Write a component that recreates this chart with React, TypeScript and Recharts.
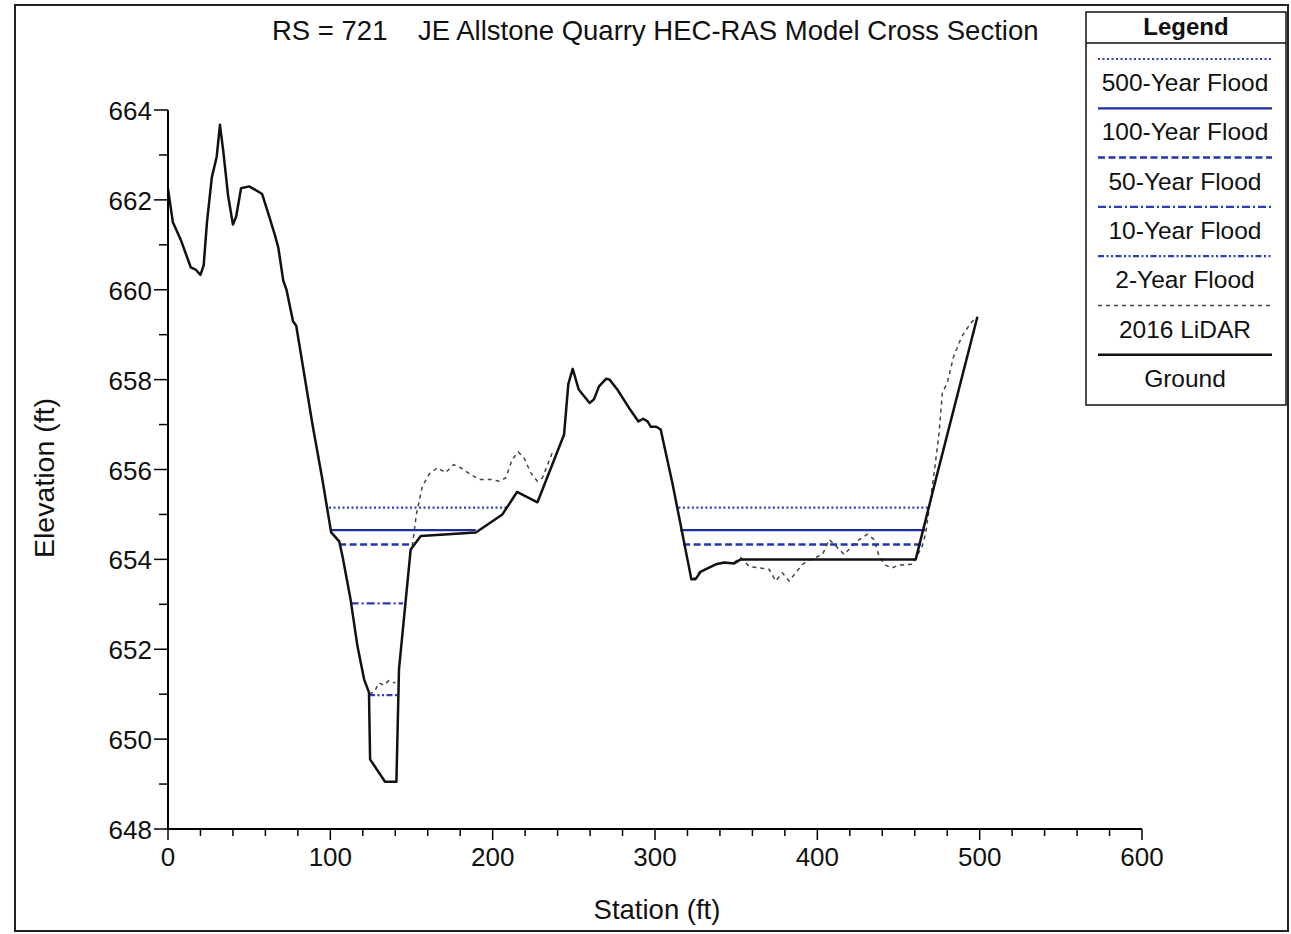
import { LineChart, Line, XAxis, YAxis } from "recharts";

// ground profile
const groundStation = [
  0, 3, 8, 14, 17, 20, 22, 24, 27, 30, 32, 34, 37, 40, 42, 45, 50, 53, 58, 62, 66, 68, 71, 73, 77, 79,
  89, 95, 100.5, 105.5, 107.5, 112.5, 116.7, 120.8, 123.8, 124.5, 133.7, 140.7, 142.3, 149.5, 155.7,
  189.6, 206, 215, 227.6, 238.8, 244, 246.6, 249.3, 253, 259.7, 262.4, 265.5, 270, 272, 276.8, 284,
  289.8, 292.7, 295.4, 297.4, 300.8, 303.5, 310.7, 320, 322.4, 325, 328, 333, 337.5, 342.6, 348.7,
  352.8, 460.6, 473, 498.6,
];
const groundElev = [
  662.25, 661.5, 661.1, 660.5, 660.45, 660.33, 660.55, 661.5, 662.5, 662.96, 663.67, 663.1, 662.1,
  661.45, 661.63, 662.26, 662.3, 662.24, 662.13, 661.67, 661.2, 660.93, 660.2, 660.0, 659.3, 659.2,
  657.0, 655.8, 654.6, 654.4, 654.07, 653.1, 652.07, 651.33, 651.04, 649.55, 649.05, 649.05, 651.56,
  654.22, 654.52, 654.6, 655.0, 655.5, 655.27, 656.3, 656.78, 657.9, 658.24, 657.78, 657.48, 657.56,
  657.85, 658.02, 658.0, 657.78, 657.37, 657.07, 657.13, 657.07, 656.95, 656.95, 656.89, 655.7, 654.0,
  653.56, 653.56, 653.72, 653.81, 653.89, 653.93, 653.91, 654.0, 654.0, 655.78, 659.4,
];

// 2016 LiDAR, only where it leaves the ground line (null = hidden gap)
const lidarStation = [
  124, 127, 130, 133, 136, 140, 145,
  150.5, 153, 156.7, 161, 166, 171, 176, 180.3, 186, 191.6, 198.8, 204, 208, 212, 215.8, 219.3, 223.4,
  227.5, 230.6, 234.3, 237, 280,
  322.4, 325, 328, 333, 337.5, 342.6, 348.7, 352.8, 358, 364, 370.3, 374.4, 378.5, 382.6, 386.7, 390.8,
  396, 403.2, 407.3, 411.4, 416.5, 421.6, 425.8, 430.9, 435, 438, 442, 446, 450, 458.5, 464.7, 466.8,
  472, 475, 477, 480, 484, 489, 494.5, 496.5,
];
const lidarElev = [
  651.0, 651.05, 651.25, 651.2, 651.3, 651.25, null,
  654.3, 655.0, 655.63, 655.9, 656.04, 655.93, 656.11, 656.04, 655.9, 655.78, 655.78, 655.74, 655.81,
  656.22, 656.39, 656.26, 655.93, 655.74, 655.81, 656.15, 656.4, null,
  653.56, 653.6, 653.75, 653.8, 653.9, 653.92, 653.93, 654.04, 653.84, 653.81, 653.78, 653.52, 653.7,
  653.52, 653.7, 653.89, 654.0, 654.11, 654.44, 654.3, 654.11, 654.3, 654.44, 654.56, 654.44, 654.07,
  653.87, 653.81, 653.87, 653.89, 654.3, 654.6, 655.93, 656.81, 657.7, 657.93, 658.52, 658.96, 659.26,
  659.33,
];

// water surfaces: left pool and right pool extents
const floodNames = ["500-Year Flood", "100-Year Flood", "50-Year Flood", "10-Year Flood", "2-Year Flood"];
const floodElev = [655.15, 654.65, 654.33, 653.02, 650.98];
const floodLeftStart = [99.2, 100.3, 105.4, 112.5, 123.8];
const floodLeftEnd = [208.5, 189.6, 150.5, 144.8, 141.9];
const floodRightStart = [314.4, 315.5, 317.3, null, null];
const floodRightEnd = [469, 466.4, 464.8, null, null];

const xTicks = [0, 20, 40, 60, 80, 100, 120, 140, 160, 180, 200, 220, 240, 260, 280, 300, 320, 340, 360, 380, 400, 420, 440, 460, 480, 500, 520, 540, 560, 580, 600];
const yTicks = [648, 649, 650, 651, 652, 653, 654, 655, 656, 657, 658, 659, 660, 661, 662, 663, 664];

const FONT = '"Liberation Sans", Arial, sans-serif';

const floodStyles = [
  { color: "#2b3fc4", width: 2.2, dash: "2 2.5" },
  { color: "#1f2d9c", width: 2.2, dash: undefined },
  { color: "#2236b0", width: 2.5, dash: "7 3.5" },
  { color: "#2a3cc0", width: 2.2, dash: "8 3 2 3" },
  { color: "#2a3cc0", width: 2.2, dash: "6 2.5 2 2.5 2 2.5" },
];
const lidarStyle = { color: "#444", width: 1.5, dash: "4 4" };
const groundStyle = { color: "#111", width: 2.5 };

const zip = (xs: number[], ys: (number | null)[]) => xs.map((x, i) => ({ x, y: ys[i] }));

const groundData = zip(groundStation, groundElev);
const lidarData = zip(lidarStation, lidarElev);
const floodData = floodNames.map((_, i) => {
  const e = floodElev[i];
  const pts: { x: number; y: number | null }[] = [
    { x: floodLeftStart[i], y: e },
    { x: floodLeftEnd[i], y: e },
  ];
  const rs = floodRightStart[i];
  const re = floodRightEnd[i];
  if (rs != null && re != null) {
    pts.push({ x: (floodLeftEnd[i] + rs) / 2, y: null });
    pts.push({ x: rs, y: e });
    pts.push({ x: re, y: e });
  }
  return pts;
});

const XTick = (props: any) => {
  const { x, y, payload } = props;
  const major = payload.value % 100 === 0;
  return (
    <g>
      <line x1={x} y1={y} x2={x} y2={y + (major ? 11 : 7)} stroke="#000" strokeWidth={1.5} />
      {major && (
        <text x={x} y={y + 37} textAnchor="middle" fontSize={26} fontFamily={FONT} fill="#111">
          {payload.value}
        </text>
      )}
    </g>
  );
};

const YTick = (props: any) => {
  const { x, y, payload } = props;
  const major = payload.value % 2 === 0;
  return (
    <g>
      <line x1={x} y1={y} x2={x - (major ? 14 : 9)} y2={y} stroke="#000" strokeWidth={1.5} />
      {major && (
        <text x={x - 16} y={y + 10} textAnchor="end" fontSize={26} fontFamily={FONT} fill="#111">
          {payload.value}
        </text>
      )}
    </g>
  );
};

const legendRows = [
  ...floodNames.map((name, i) => ({ name, ...floodStyles[i] })),
  { name: "2016 LiDAR", ...lidarStyle },
  { name: "Ground", color: groundStyle.color, width: groundStyle.width, dash: undefined },
];

const App = () => {
  return (
    <div style={{ position: "absolute", left: 0, top: 0, width: 1291, height: 934, background: "#fff", fontFamily: FONT }}>
      <LineChart width={1291} height={934} margin={{ top: 110, right: 149, bottom: 45, left: 108 }}>
        <XAxis
          type="number"
          dataKey="x"
          domain={[0, 600]}
          ticks={xTicks}
          interval={0}
          allowDataOverflow
          height={60}
          tickSize={0}
          tickMargin={0}
          tickLine={false}
          tick={<XTick />}
          axisLine={{ stroke: "#000", strokeWidth: 2 }}
        />
        <YAxis
          type="number"
          dataKey="y"
          domain={[648, 664]}
          ticks={yTicks}
          interval={0}
          allowDataOverflow
          width={60}
          tickSize={0}
          tickMargin={0}
          tickLine={false}
          tick={<YTick />}
          axisLine={{ stroke: "#000", strokeWidth: 2 }}
        />
        <Line
          data={lidarData}
          dataKey="y"
          type="linear"
          stroke={lidarStyle.color}
          strokeWidth={lidarStyle.width}
          strokeDasharray={lidarStyle.dash}
          dot={false}
          connectNulls={false}
          isAnimationActive={false}
        />
        {floodData.map((d, i) => (
          <Line
            key={floodNames[i]}
            data={d}
            dataKey="y"
            type="linear"
            stroke={floodStyles[i].color}
            strokeWidth={floodStyles[i].width}
            strokeDasharray={floodStyles[i].dash}
            dot={false}
            connectNulls={false}
            isAnimationActive={false}
          />
        ))}
        <Line
          data={groundData}
          dataKey="y"
          type="linear"
          stroke={groundStyle.color}
          strokeWidth={groundStyle.width}
          strokeLinejoin="round"
          dot={false}
          isAnimationActive={false}
        />
      </LineChart>

      <svg width={1291} height={934} style={{ position: "absolute", left: 0, top: 0, pointerEvents: "none" }}>
        <rect x={15} y={5} width={1273} height={926} fill="none" stroke="#222" strokeWidth={2} />
        <text x={272} y={40} fontSize={27.5} fontFamily={FONT} fill="#111" style={{ whiteSpace: "pre" }}>
          {"RS = 721    JE Allstone Quarry HEC-RAS Model Cross Section"}
        </text>
        <text x={657} y={919} textAnchor="middle" fontSize={27.5} fontFamily={FONT} fill="#111">
          Station (ft)
        </text>
        <text
          x={0}
          y={0}
          transform="translate(54 478) rotate(-90)"
          textAnchor="middle"
          fontSize={28.5}
          fontFamily={FONT}
          fill="#111"
        >
          Elevation (ft)
        </text>

        <rect x={1086} y={12} width={200} height={393} fill="#fff" stroke="#111" strokeWidth={1.5} />
        <text x={1186} y={35} textAnchor="middle" fontSize={24} fontWeight="bold" fontFamily={FONT} fill="#111">
          Legend
        </text>
        <line x1={1086} y1={43} x2={1286} y2={43} stroke="#111" strokeWidth={1.5} />
        {legendRows.map((r, i) => {
          const ly = 59 + i * 49.3;
          return (
            <g key={r.name}>
              <line x1={1098} y1={ly} x2={1272} y2={ly} stroke={r.color} strokeWidth={r.width} strokeDasharray={r.dash} />
              <text x={1185} y={ly + 32} textAnchor="middle" fontSize={24.5} fontFamily={FONT} fill="#111">
                {r.name}
              </text>
            </g>
          );
        })}
      </svg>
    </div>
  );
};

export default App;
